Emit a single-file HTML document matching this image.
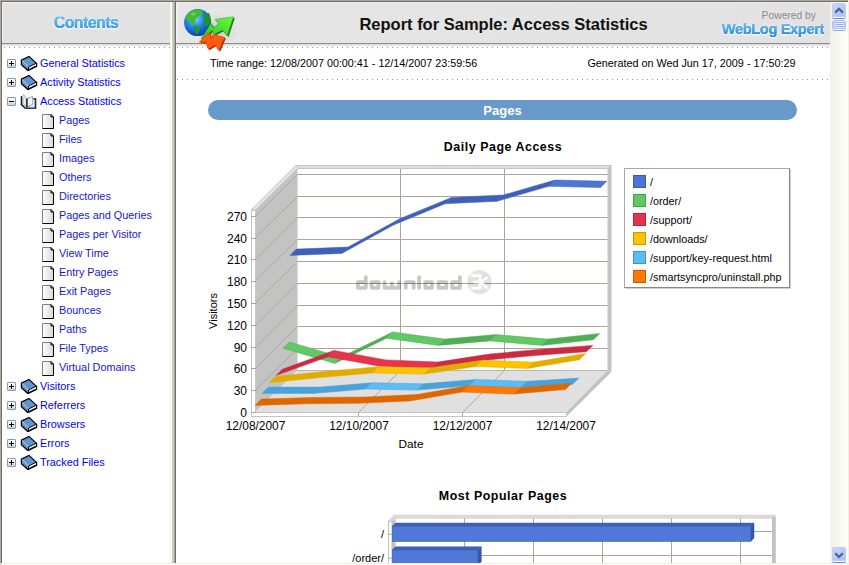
<!DOCTYPE html>
<html><head><meta charset="utf-8">
<style>
*{margin:0;padding:0;box-sizing:border-box}
html,body{width:849px;height:565px;overflow:hidden;background:#fff;font-family:"Liberation Sans",sans-serif;position:relative}
.abs{position:absolute}
#frame-t{left:0;top:0;width:849px;height:1px;background:#aca899}
#frame-t2{left:1px;top:1px;width:847px;height:1px;background:#716f64}
#frame-l{left:0;top:0;width:1px;height:565px;background:#aca899}
#frame-l2{left:1px;top:1px;width:1px;height:563px;background:#716f64}
#frame-r{left:848px;top:0;width:1px;height:565px;background:#f1efe2}
#frame-b{left:0;top:563px;width:849px;height:1px;background:#f1efe2}
/* left pane */
#lhead{left:2px;top:2px;width:168px;height:41px;background:#e2e2e2;border-top:1px solid #f2f2f2;border-left:1px solid #f2f2f2}
#lline{left:2px;top:43px;width:168px;height:1px;background:#8c8c8c}
#lgrad{left:2px;top:44px;width:168px;height:3px;background:linear-gradient(#d6d6d6,#fbfbfb)}
.dots{height:1px;background-image:linear-gradient(90deg,#9a9a9a 0,#9a9a9a 1px,transparent 1px);background-size:5px 1px}
#ldots{left:4px;top:47px;width:166px}
#contents,#contents2{left:2px;top:12.5px;width:168px;text-align:center;font-weight:bold;font-size:15.8px;line-height:20px;letter-spacing:-0.5px}
#contents{color:#3d9ae0;text-shadow:0 1px 2px #fff,0 0 2px #fff}
#contents2{color:transparent;background:linear-gradient(#e2e2e2 0,#e2e2e2 4px,#74c2f2 4px,#3a92dc 16px,#e2e2e2 16px);-webkit-background-clip:text;background-clip:text}
/* splitter */
#sp0{left:170px;top:2px;width:1px;height:561px;background:#f5f3e6}
#sp1{left:171px;top:2px;width:1px;height:561px;background:#ffffff}
#sp2{left:172px;top:2px;width:2px;height:561px;background:#c9c9cd}
#sp3{left:174px;top:2px;width:1px;height:561px;background:#aca894}
#sp4{left:175px;top:2px;width:1px;height:561px;background:#716f64}
/* right pane */
#rhead{left:176px;top:2px;width:654px;height:41px;background:linear-gradient(90deg,#f6f6f6 0,#e6e6e6 3px,#e2e2e2 100%);border-top:1px solid #ececec}
#rline{left:176px;top:43px;width:654px;height:1px;background:#8c8c8c}
#rgrad{left:176px;top:44px;width:654px;height:3px;background:linear-gradient(#d6d6d6,#fbfbfb)}
#rdots{left:177px;top:47px;width:652px}
#rdots2{left:177px;top:79px;width:652px}
#title{left:176.5px;top:14px;width:654px;text-align:center;font-weight:bold;font-size:16.5px;line-height:20px;color:#111;padding-left:0px}
#powered{left:700px;top:9.5px;width:116px;text-align:right;font-size:10.3px;line-height:12px;color:#8a8a8a}
#weblog,#weblog2{left:690px;top:20.5px;width:134px;text-align:right;font-weight:bold;font-size:14.6px;line-height:16px;letter-spacing:-0.35px}
#weblog{color:#3b9ae0;text-shadow:0 1px 2px #fff,0 0 2px #fff}
#weblog2{color:transparent;background:linear-gradient(#6cbcf0 3px,#2f8ad6 14px);-webkit-background-clip:text;background-clip:text}
#trange{left:210px;top:57px;font-size:10.77px;line-height:12px;color:#000}
#gen{left:500px;top:57px;width:295.5px;text-align:right;font-size:10.8px;line-height:12px;color:#000}
#pill{left:208px;top:100px;width:589px;height:20px;border-radius:10px;background:#6799cb;color:#fff;text-align:center;font-weight:bold;font-size:13px;line-height:21px}
.ctitle{font-weight:bold;font-size:12.4px;line-height:14px;color:#000;text-align:center;letter-spacing:0.55px}
#t1{left:380px;top:140px;width:246px}
#t2{left:380px;top:489px;width:246px}
.yl{position:absolute;left:207px;width:40px;text-align:right;font-size:12px;line-height:14px;color:#000}
.xl{position:absolute;top:418.5px;width:80px;text-align:center;font-size:11.9px;line-height:14px;color:#000}
#datel{left:380px;top:436.5px;width:62px;text-align:center;font-size:11.8px;line-height:14px}
#visl{left:182.5px;top:303.5px;width:60px;text-align:center;font-size:11px;line-height:14px;transform:rotate(-90deg)}
/* legend */
#legend{left:624px;top:168px;width:166px;height:120px;border:1px solid #a8a8a8;border-right-color:#888;border-bottom-color:#888;background:#fff;box-shadow:1px 1px 0 #d0d0d0}
.li{position:absolute;left:8px;height:14px;font-size:11px;line-height:14px;color:#000}
.sw{position:absolute;left:0;top:0;width:13px;height:13px;border:1px solid}
.li span.tx{position:absolute;left:17px;top:0px;white-space:nowrap;font-size:10.8px}
/* tree */
.tr{position:absolute;left:0;height:19px;width:168px;white-space:nowrap}
.pm{position:absolute;left:7px;top:5px;width:9px;height:9px;border:1px solid #7b9ebd;border-radius:1px;background:linear-gradient(#fff 0,#f0ede4 50%,#d6cfbd 100%)}
.pm .h{position:absolute;left:1px;top:3px;width:5px;height:1px;background:#000}
.pm .v{position:absolute;left:3px;top:1px;width:1px;height:5px;background:#000}
.ic{position:absolute;left:20px;top:1px}
.pg{position:absolute;left:42px;top:3px}
.t1{position:absolute;left:40px;top:2px;font-size:10.85px;line-height:14px;color:#0000ff}
.t2{position:absolute;left:59px;top:2px;font-size:10.85px;line-height:14px;color:#1616d4}
/* scrollbar */
#sb{left:830px;top:2px;width:18px;height:561px;background:linear-gradient(90deg,#f3f1e7,#fefefa)}
.sbb{position:absolute;left:832px;width:14px;height:14px;border-radius:2px;background:linear-gradient(135deg,#c9d8fc,#b4c9f8 60%,#a9c1f6);border:1px solid #b9cdf7;box-shadow:0 1px 0 #fff,0 2px 0 #6b8ed4}
#sbthumb{left:831.5px;top:19.5px;width:14.5px;height:9px;border-radius:3px;background:linear-gradient(90deg,#bcd0fa,#d4e0fd 50%,#bcd0fa);border:1px solid #a4bcf0;box-shadow:0 1px 0 #fff,0 2px 0 #8aa6e2}
</style></head><body>
<div class="abs" id="lhead"></div>
<div class="abs" id="lline"></div>
<div class="abs" id="lgrad"></div>
<div class="abs dots" id="ldots"></div>
<div class="abs" id="contents">Contents</div><div class="abs" id="contents2">Contents</div>
<div class="tr" style="top:54px"><span class="pm"><span class="h"></span><span class="v"></span></span><svg class="ic" width="18" height="17" viewBox="0 0 18 17"><polygon points="1.4,5.1 9,1.4 16.4,8.2 8.6,12 7.6,15.3 1.4,9.7" fill="#5f95cc"/><polygon points="8.6,12 16.4,8.2 16.6,11.4 8.5,15.3" fill="#ffffff"/><polygon points="1.4,5.1 9,1.4 16.6,8.4 16.6,11.4 8.5,15.3 7.6,15.3 1.4,9.7" fill="none" stroke="#000" stroke-width="1.25" stroke-linejoin="miter"/><line x1="2.2" y1="5.6" x2="8.6" y2="11.8" stroke="#d8d4c8" stroke-width="0.9"/><polyline points="8.6,12 16.4,8.2" fill="none" stroke="#000" stroke-width="1"/><line x1="9.5" y1="14" x2="15.5" y2="11" stroke="#000" stroke-width="0.7"/><polygon points="8.6,12 8.5,15.3" stroke="#000" stroke-width="1"/></svg><span class="t1">General Statistics</span></div>
<div class="tr" style="top:73px"><span class="pm"><span class="h"></span><span class="v"></span></span><svg class="ic" width="18" height="17" viewBox="0 0 18 17"><polygon points="1.4,5.1 9,1.4 16.4,8.2 8.6,12 7.6,15.3 1.4,9.7" fill="#5f95cc"/><polygon points="8.6,12 16.4,8.2 16.6,11.4 8.5,15.3" fill="#ffffff"/><polygon points="1.4,5.1 9,1.4 16.6,8.4 16.6,11.4 8.5,15.3 7.6,15.3 1.4,9.7" fill="none" stroke="#000" stroke-width="1.25" stroke-linejoin="miter"/><line x1="2.2" y1="5.6" x2="8.6" y2="11.8" stroke="#d8d4c8" stroke-width="0.9"/><polyline points="8.6,12 16.4,8.2" fill="none" stroke="#000" stroke-width="1"/><line x1="9.5" y1="14" x2="15.5" y2="11" stroke="#000" stroke-width="0.7"/><polygon points="8.6,12 8.5,15.3" stroke="#000" stroke-width="1"/></svg><span class="t1">Activity Statistics</span></div>
<div class="tr" style="top:92px"><span class="pm"><span class="h"></span></span><svg class="ic" width="18" height="17" viewBox="0 0 18 17"><polygon points="1.4,3.3 1.4,11.6 5.2,15 15.6,15 15.6,5.8 12.8,5.8 12.8,3.3 6.9,5.6 3.5,1.2" fill="#ffffff"/><polyline points="1.4,3.3 1.4,11.6 5.2,15.2 15.6,15.2 15.6,5.8 13.2,5.8" fill="none" stroke="#000" stroke-width="1.3"/><polyline points="2.3,4 2.3,11.2 5.6,14.2 14.8,14.2 14.8,6.6" fill="none" stroke="#5ba3e6" stroke-width="1"/><polygon points="2.8,3.4 3.7,1.4 6.2,5.6 6.6,13.6 3,10.8" fill="#eeeeee" stroke="#9a9a9a" stroke-width="0.8"/><polygon points="6.9,5.8 12.6,3.4 12.8,11.2 7,14" fill="#f2f2f2" stroke="#8a8a8a" stroke-width="0.8"/><line x1="6.9" y1="5.6" x2="6.9" y2="14.4" stroke="#000" stroke-width="1.2"/></svg><span class="t1">Access Statistics</span></div>
<div class="tr" style="top:111px"><svg class="pg" width="13" height="16" viewBox="0 0 13 16"><defs><linearGradient id="pgg" x1="0" x2="1" y1="0" y2="0"><stop offset="0" stop-color="#ffffff"/><stop offset="1" stop-color="#d8d8d8"/></linearGradient></defs><polygon points="0.5,0.5 9,0.5 11.5,3 11.5,14.5 0.5,14.5" fill="url(#pgg)"/><polyline points="0.5,14.5 0.5,0.5 9,0.5" fill="none" stroke="#808080" stroke-width="1"/><polyline points="9,0.5 11.5,3 11.5,14.5 0.5,14.5" fill="none" stroke="#000" stroke-width="1"/><polyline points="9,0.5 9,3 11.5,3" fill="none" stroke="#000" stroke-width="1"/></svg><span class="t2">Pages</span></div>
<div class="tr" style="top:130px"><svg class="pg" width="13" height="16" viewBox="0 0 13 16"><defs><linearGradient id="pgg" x1="0" x2="1" y1="0" y2="0"><stop offset="0" stop-color="#ffffff"/><stop offset="1" stop-color="#d8d8d8"/></linearGradient></defs><polygon points="0.5,0.5 9,0.5 11.5,3 11.5,14.5 0.5,14.5" fill="url(#pgg)"/><polyline points="0.5,14.5 0.5,0.5 9,0.5" fill="none" stroke="#808080" stroke-width="1"/><polyline points="9,0.5 11.5,3 11.5,14.5 0.5,14.5" fill="none" stroke="#000" stroke-width="1"/><polyline points="9,0.5 9,3 11.5,3" fill="none" stroke="#000" stroke-width="1"/></svg><span class="t2">Files</span></div>
<div class="tr" style="top:149px"><svg class="pg" width="13" height="16" viewBox="0 0 13 16"><defs><linearGradient id="pgg" x1="0" x2="1" y1="0" y2="0"><stop offset="0" stop-color="#ffffff"/><stop offset="1" stop-color="#d8d8d8"/></linearGradient></defs><polygon points="0.5,0.5 9,0.5 11.5,3 11.5,14.5 0.5,14.5" fill="url(#pgg)"/><polyline points="0.5,14.5 0.5,0.5 9,0.5" fill="none" stroke="#808080" stroke-width="1"/><polyline points="9,0.5 11.5,3 11.5,14.5 0.5,14.5" fill="none" stroke="#000" stroke-width="1"/><polyline points="9,0.5 9,3 11.5,3" fill="none" stroke="#000" stroke-width="1"/></svg><span class="t2">Images</span></div>
<div class="tr" style="top:168px"><svg class="pg" width="13" height="16" viewBox="0 0 13 16"><defs><linearGradient id="pgg" x1="0" x2="1" y1="0" y2="0"><stop offset="0" stop-color="#ffffff"/><stop offset="1" stop-color="#d8d8d8"/></linearGradient></defs><polygon points="0.5,0.5 9,0.5 11.5,3 11.5,14.5 0.5,14.5" fill="url(#pgg)"/><polyline points="0.5,14.5 0.5,0.5 9,0.5" fill="none" stroke="#808080" stroke-width="1"/><polyline points="9,0.5 11.5,3 11.5,14.5 0.5,14.5" fill="none" stroke="#000" stroke-width="1"/><polyline points="9,0.5 9,3 11.5,3" fill="none" stroke="#000" stroke-width="1"/></svg><span class="t2">Others</span></div>
<div class="tr" style="top:187px"><svg class="pg" width="13" height="16" viewBox="0 0 13 16"><defs><linearGradient id="pgg" x1="0" x2="1" y1="0" y2="0"><stop offset="0" stop-color="#ffffff"/><stop offset="1" stop-color="#d8d8d8"/></linearGradient></defs><polygon points="0.5,0.5 9,0.5 11.5,3 11.5,14.5 0.5,14.5" fill="url(#pgg)"/><polyline points="0.5,14.5 0.5,0.5 9,0.5" fill="none" stroke="#808080" stroke-width="1"/><polyline points="9,0.5 11.5,3 11.5,14.5 0.5,14.5" fill="none" stroke="#000" stroke-width="1"/><polyline points="9,0.5 9,3 11.5,3" fill="none" stroke="#000" stroke-width="1"/></svg><span class="t2">Directories</span></div>
<div class="tr" style="top:206px"><svg class="pg" width="13" height="16" viewBox="0 0 13 16"><defs><linearGradient id="pgg" x1="0" x2="1" y1="0" y2="0"><stop offset="0" stop-color="#ffffff"/><stop offset="1" stop-color="#d8d8d8"/></linearGradient></defs><polygon points="0.5,0.5 9,0.5 11.5,3 11.5,14.5 0.5,14.5" fill="url(#pgg)"/><polyline points="0.5,14.5 0.5,0.5 9,0.5" fill="none" stroke="#808080" stroke-width="1"/><polyline points="9,0.5 11.5,3 11.5,14.5 0.5,14.5" fill="none" stroke="#000" stroke-width="1"/><polyline points="9,0.5 9,3 11.5,3" fill="none" stroke="#000" stroke-width="1"/></svg><span class="t2">Pages and Queries</span></div>
<div class="tr" style="top:225px"><svg class="pg" width="13" height="16" viewBox="0 0 13 16"><defs><linearGradient id="pgg" x1="0" x2="1" y1="0" y2="0"><stop offset="0" stop-color="#ffffff"/><stop offset="1" stop-color="#d8d8d8"/></linearGradient></defs><polygon points="0.5,0.5 9,0.5 11.5,3 11.5,14.5 0.5,14.5" fill="url(#pgg)"/><polyline points="0.5,14.5 0.5,0.5 9,0.5" fill="none" stroke="#808080" stroke-width="1"/><polyline points="9,0.5 11.5,3 11.5,14.5 0.5,14.5" fill="none" stroke="#000" stroke-width="1"/><polyline points="9,0.5 9,3 11.5,3" fill="none" stroke="#000" stroke-width="1"/></svg><span class="t2">Pages per Visitor</span></div>
<div class="tr" style="top:244px"><svg class="pg" width="13" height="16" viewBox="0 0 13 16"><defs><linearGradient id="pgg" x1="0" x2="1" y1="0" y2="0"><stop offset="0" stop-color="#ffffff"/><stop offset="1" stop-color="#d8d8d8"/></linearGradient></defs><polygon points="0.5,0.5 9,0.5 11.5,3 11.5,14.5 0.5,14.5" fill="url(#pgg)"/><polyline points="0.5,14.5 0.5,0.5 9,0.5" fill="none" stroke="#808080" stroke-width="1"/><polyline points="9,0.5 11.5,3 11.5,14.5 0.5,14.5" fill="none" stroke="#000" stroke-width="1"/><polyline points="9,0.5 9,3 11.5,3" fill="none" stroke="#000" stroke-width="1"/></svg><span class="t2">View Time</span></div>
<div class="tr" style="top:263px"><svg class="pg" width="13" height="16" viewBox="0 0 13 16"><defs><linearGradient id="pgg" x1="0" x2="1" y1="0" y2="0"><stop offset="0" stop-color="#ffffff"/><stop offset="1" stop-color="#d8d8d8"/></linearGradient></defs><polygon points="0.5,0.5 9,0.5 11.5,3 11.5,14.5 0.5,14.5" fill="url(#pgg)"/><polyline points="0.5,14.5 0.5,0.5 9,0.5" fill="none" stroke="#808080" stroke-width="1"/><polyline points="9,0.5 11.5,3 11.5,14.5 0.5,14.5" fill="none" stroke="#000" stroke-width="1"/><polyline points="9,0.5 9,3 11.5,3" fill="none" stroke="#000" stroke-width="1"/></svg><span class="t2">Entry Pages</span></div>
<div class="tr" style="top:282px"><svg class="pg" width="13" height="16" viewBox="0 0 13 16"><defs><linearGradient id="pgg" x1="0" x2="1" y1="0" y2="0"><stop offset="0" stop-color="#ffffff"/><stop offset="1" stop-color="#d8d8d8"/></linearGradient></defs><polygon points="0.5,0.5 9,0.5 11.5,3 11.5,14.5 0.5,14.5" fill="url(#pgg)"/><polyline points="0.5,14.5 0.5,0.5 9,0.5" fill="none" stroke="#808080" stroke-width="1"/><polyline points="9,0.5 11.5,3 11.5,14.5 0.5,14.5" fill="none" stroke="#000" stroke-width="1"/><polyline points="9,0.5 9,3 11.5,3" fill="none" stroke="#000" stroke-width="1"/></svg><span class="t2">Exit Pages</span></div>
<div class="tr" style="top:301px"><svg class="pg" width="13" height="16" viewBox="0 0 13 16"><defs><linearGradient id="pgg" x1="0" x2="1" y1="0" y2="0"><stop offset="0" stop-color="#ffffff"/><stop offset="1" stop-color="#d8d8d8"/></linearGradient></defs><polygon points="0.5,0.5 9,0.5 11.5,3 11.5,14.5 0.5,14.5" fill="url(#pgg)"/><polyline points="0.5,14.5 0.5,0.5 9,0.5" fill="none" stroke="#808080" stroke-width="1"/><polyline points="9,0.5 11.5,3 11.5,14.5 0.5,14.5" fill="none" stroke="#000" stroke-width="1"/><polyline points="9,0.5 9,3 11.5,3" fill="none" stroke="#000" stroke-width="1"/></svg><span class="t2">Bounces</span></div>
<div class="tr" style="top:320px"><svg class="pg" width="13" height="16" viewBox="0 0 13 16"><defs><linearGradient id="pgg" x1="0" x2="1" y1="0" y2="0"><stop offset="0" stop-color="#ffffff"/><stop offset="1" stop-color="#d8d8d8"/></linearGradient></defs><polygon points="0.5,0.5 9,0.5 11.5,3 11.5,14.5 0.5,14.5" fill="url(#pgg)"/><polyline points="0.5,14.5 0.5,0.5 9,0.5" fill="none" stroke="#808080" stroke-width="1"/><polyline points="9,0.5 11.5,3 11.5,14.5 0.5,14.5" fill="none" stroke="#000" stroke-width="1"/><polyline points="9,0.5 9,3 11.5,3" fill="none" stroke="#000" stroke-width="1"/></svg><span class="t2">Paths</span></div>
<div class="tr" style="top:339px"><svg class="pg" width="13" height="16" viewBox="0 0 13 16"><defs><linearGradient id="pgg" x1="0" x2="1" y1="0" y2="0"><stop offset="0" stop-color="#ffffff"/><stop offset="1" stop-color="#d8d8d8"/></linearGradient></defs><polygon points="0.5,0.5 9,0.5 11.5,3 11.5,14.5 0.5,14.5" fill="url(#pgg)"/><polyline points="0.5,14.5 0.5,0.5 9,0.5" fill="none" stroke="#808080" stroke-width="1"/><polyline points="9,0.5 11.5,3 11.5,14.5 0.5,14.5" fill="none" stroke="#000" stroke-width="1"/><polyline points="9,0.5 9,3 11.5,3" fill="none" stroke="#000" stroke-width="1"/></svg><span class="t2">File Types</span></div>
<div class="tr" style="top:358px"><svg class="pg" width="13" height="16" viewBox="0 0 13 16"><defs><linearGradient id="pgg" x1="0" x2="1" y1="0" y2="0"><stop offset="0" stop-color="#ffffff"/><stop offset="1" stop-color="#d8d8d8"/></linearGradient></defs><polygon points="0.5,0.5 9,0.5 11.5,3 11.5,14.5 0.5,14.5" fill="url(#pgg)"/><polyline points="0.5,14.5 0.5,0.5 9,0.5" fill="none" stroke="#808080" stroke-width="1"/><polyline points="9,0.5 11.5,3 11.5,14.5 0.5,14.5" fill="none" stroke="#000" stroke-width="1"/><polyline points="9,0.5 9,3 11.5,3" fill="none" stroke="#000" stroke-width="1"/></svg><span class="t2">Virtual Domains</span></div>
<div class="tr" style="top:377px"><span class="pm"><span class="h"></span><span class="v"></span></span><svg class="ic" width="18" height="17" viewBox="0 0 18 17"><polygon points="1.4,5.1 9,1.4 16.4,8.2 8.6,12 7.6,15.3 1.4,9.7" fill="#5f95cc"/><polygon points="8.6,12 16.4,8.2 16.6,11.4 8.5,15.3" fill="#ffffff"/><polygon points="1.4,5.1 9,1.4 16.6,8.4 16.6,11.4 8.5,15.3 7.6,15.3 1.4,9.7" fill="none" stroke="#000" stroke-width="1.25" stroke-linejoin="miter"/><line x1="2.2" y1="5.6" x2="8.6" y2="11.8" stroke="#d8d4c8" stroke-width="0.9"/><polyline points="8.6,12 16.4,8.2" fill="none" stroke="#000" stroke-width="1"/><line x1="9.5" y1="14" x2="15.5" y2="11" stroke="#000" stroke-width="0.7"/><polygon points="8.6,12 8.5,15.3" stroke="#000" stroke-width="1"/></svg><span class="t1">Visitors</span></div>
<div class="tr" style="top:396px"><span class="pm"><span class="h"></span><span class="v"></span></span><svg class="ic" width="18" height="17" viewBox="0 0 18 17"><polygon points="1.4,5.1 9,1.4 16.4,8.2 8.6,12 7.6,15.3 1.4,9.7" fill="#5f95cc"/><polygon points="8.6,12 16.4,8.2 16.6,11.4 8.5,15.3" fill="#ffffff"/><polygon points="1.4,5.1 9,1.4 16.6,8.4 16.6,11.4 8.5,15.3 7.6,15.3 1.4,9.7" fill="none" stroke="#000" stroke-width="1.25" stroke-linejoin="miter"/><line x1="2.2" y1="5.6" x2="8.6" y2="11.8" stroke="#d8d4c8" stroke-width="0.9"/><polyline points="8.6,12 16.4,8.2" fill="none" stroke="#000" stroke-width="1"/><line x1="9.5" y1="14" x2="15.5" y2="11" stroke="#000" stroke-width="0.7"/><polygon points="8.6,12 8.5,15.3" stroke="#000" stroke-width="1"/></svg><span class="t1">Referrers</span></div>
<div class="tr" style="top:415px"><span class="pm"><span class="h"></span><span class="v"></span></span><svg class="ic" width="18" height="17" viewBox="0 0 18 17"><polygon points="1.4,5.1 9,1.4 16.4,8.2 8.6,12 7.6,15.3 1.4,9.7" fill="#5f95cc"/><polygon points="8.6,12 16.4,8.2 16.6,11.4 8.5,15.3" fill="#ffffff"/><polygon points="1.4,5.1 9,1.4 16.6,8.4 16.6,11.4 8.5,15.3 7.6,15.3 1.4,9.7" fill="none" stroke="#000" stroke-width="1.25" stroke-linejoin="miter"/><line x1="2.2" y1="5.6" x2="8.6" y2="11.8" stroke="#d8d4c8" stroke-width="0.9"/><polyline points="8.6,12 16.4,8.2" fill="none" stroke="#000" stroke-width="1"/><line x1="9.5" y1="14" x2="15.5" y2="11" stroke="#000" stroke-width="0.7"/><polygon points="8.6,12 8.5,15.3" stroke="#000" stroke-width="1"/></svg><span class="t1">Browsers</span></div>
<div class="tr" style="top:434px"><span class="pm"><span class="h"></span><span class="v"></span></span><svg class="ic" width="18" height="17" viewBox="0 0 18 17"><polygon points="1.4,5.1 9,1.4 16.4,8.2 8.6,12 7.6,15.3 1.4,9.7" fill="#5f95cc"/><polygon points="8.6,12 16.4,8.2 16.6,11.4 8.5,15.3" fill="#ffffff"/><polygon points="1.4,5.1 9,1.4 16.6,8.4 16.6,11.4 8.5,15.3 7.6,15.3 1.4,9.7" fill="none" stroke="#000" stroke-width="1.25" stroke-linejoin="miter"/><line x1="2.2" y1="5.6" x2="8.6" y2="11.8" stroke="#d8d4c8" stroke-width="0.9"/><polyline points="8.6,12 16.4,8.2" fill="none" stroke="#000" stroke-width="1"/><line x1="9.5" y1="14" x2="15.5" y2="11" stroke="#000" stroke-width="0.7"/><polygon points="8.6,12 8.5,15.3" stroke="#000" stroke-width="1"/></svg><span class="t1">Errors</span></div>
<div class="tr" style="top:453px"><span class="pm"><span class="h"></span><span class="v"></span></span><svg class="ic" width="18" height="17" viewBox="0 0 18 17"><polygon points="1.4,5.1 9,1.4 16.4,8.2 8.6,12 7.6,15.3 1.4,9.7" fill="#5f95cc"/><polygon points="8.6,12 16.4,8.2 16.6,11.4 8.5,15.3" fill="#ffffff"/><polygon points="1.4,5.1 9,1.4 16.6,8.4 16.6,11.4 8.5,15.3 7.6,15.3 1.4,9.7" fill="none" stroke="#000" stroke-width="1.25" stroke-linejoin="miter"/><line x1="2.2" y1="5.6" x2="8.6" y2="11.8" stroke="#d8d4c8" stroke-width="0.9"/><polyline points="8.6,12 16.4,8.2" fill="none" stroke="#000" stroke-width="1"/><line x1="9.5" y1="14" x2="15.5" y2="11" stroke="#000" stroke-width="0.7"/><polygon points="8.6,12 8.5,15.3" stroke="#000" stroke-width="1"/></svg><span class="t1">Tracked Files</span></div>
<div class="abs" id="sp0"></div><div class="abs" id="sp1"></div><div class="abs" id="sp2"></div><div class="abs" id="sp3"></div><div class="abs" id="sp4"></div>
<div class="abs" id="rhead"></div>
<div class="abs" id="rline"></div>
<div class="abs" id="rgrad"></div>
<div class="abs dots" id="rdots"></div>
<div class="abs dots" id="rdots2"></div>
<svg class="abs" style="left:178px;top:4px" width="60" height="52" viewBox="178 4 60 52">
<defs>
<radialGradient id="glb" cx="0.4" cy="0.35" r="0.7"><stop offset="0" stop-color="#8fd8ff"/><stop offset="0.45" stop-color="#2286ec"/><stop offset="1" stop-color="#0636a0"/></radialGradient>
<radialGradient id="sh" cx="0.5" cy="0.5" r="0.5"><stop offset="0" stop-color="#000" stop-opacity="0.12"/><stop offset="1" stop-color="#000" stop-opacity="0"/></radialGradient>
<linearGradient id="garr" x1="0" y1="1" x2="1" y2="0"><stop offset="0" stop-color="#2fb82a"/><stop offset="1" stop-color="#66ff3c"/></linearGradient>
</defs>
<ellipse cx="218" cy="30" rx="20" ry="18" fill="url(#sh)"/>
<circle cx="197.6" cy="22.6" r="13.5" fill="url(#glb)"/>
<path d="M185.5,18 C186.5,14.5 189,12 192,10.8 C195,9.5 199,9.3 202,10.6 C203.5,12 203.5,14 201.5,14.8 C199.5,15.5 197.5,17 196,19 C194.5,21 195,23 196.5,25 C194,24.5 191.5,23.5 189.5,22 C187.5,21 186,19.5 185.5,18 Z" fill="#46b830"/>
<path d="M193.6,25.2 C196,25.3 199.5,26.3 200.3,28 C200,30.5 198,33 196.2,35 C195.8,33 195.2,30 194.6,28.2 Z" fill="#25962a"/>
<path d="M203.8,16 C205,14 207,12.6 208.5,12.8 C210,14.5 211,18 210.8,22 C210.2,24.5 208,26 206,26.2 C204.5,25 203.5,23 203.6,20.5 Z" fill="#20922a"/>
<ellipse cx="193.5" cy="14" rx="2.5" ry="1.6" fill="#c8ffd0" opacity="0.35"/>
<polygon transform="translate(1.3,1.1)" points="233.5,16.8 215.3,19.4 218.3,23.9 213.5,28 210.9,23.2 201.2,38.4 203,39.5 212,30.6 214.2,34.3 222.4,30.2 227.2,35.8" fill="#1a7814"/>
<polygon points="233.5,16.8 215.3,19.4 218.3,23.9 213.5,28 210.9,23.2 201.2,38.4 203,39.5 212,30.6 214.2,34.3 222.4,30.2 227.2,35.8" fill="url(#garr)" stroke="#2a9020" stroke-width="0.5" stroke-linejoin="round"/>
<polygon transform="translate(1.4,1.4)" points="199.3,42.1 207.5,33.2 209.8,33.6 211.2,39.1 212.7,34.3 224.6,37.3 219,50.7 215,45.1 208.3,49.2 205.7,42.5" fill="#000" opacity="0.15"/>
<polygon transform="translate(1.1,1)" points="199.3,42.1 207.5,33.2 209.8,33.6 211.2,39.1 212.7,34.3 224.6,37.3 219,50.7 215,45.1 208.3,49.2 205.7,42.5" fill="#9a2800"/>
<polygon points="199.3,42.1 207.5,33.2 209.8,33.6 211.2,39.1 212.7,34.3 224.6,37.3 219,50.7 215,45.1 208.3,49.2 205.7,42.5" fill="#ff5a10" stroke="#d84000" stroke-width="0.5" stroke-linejoin="round"/>
</svg>
<div class="abs" id="title">Report for Sample: Access Statistics</div>
<div class="abs" id="powered">Powered by</div>
<div class="abs" id="weblog">WebLog Expert</div><div class="abs" id="weblog2">WebLog Expert</div>
<div class="abs" id="trange">Time range: 12/08/2007 00:00:41 - 12/14/2007 23:59:56</div>
<div class="abs" id="gen">Generated on Wed Jun 17, 2009 - 17:50:29</div>
<div class="abs" id="pill">Pages</div>
<div class="abs ctitle" id="t1">Daily Page Access</div>
<svg class="abs" style="left:0;top:0" width="849" height="565">
<rect x="297" y="168" width="311" height="202.5" fill="#ffffff"/>
<line x1="297.00" y1="348.50" x2="608.00" y2="348.50" stroke="#aca899" stroke-width="1"/>
<line x1="297.00" y1="326.50" x2="608.00" y2="326.50" stroke="#aca899" stroke-width="1"/>
<line x1="297.00" y1="305.50" x2="608.00" y2="305.50" stroke="#aca899" stroke-width="1"/>
<line x1="297.00" y1="283.50" x2="608.00" y2="283.50" stroke="#aca899" stroke-width="1"/>
<line x1="297.00" y1="261.50" x2="608.00" y2="261.50" stroke="#aca899" stroke-width="1"/>
<line x1="297.00" y1="239.50" x2="608.00" y2="239.50" stroke="#aca899" stroke-width="1"/>
<line x1="297.00" y1="217.50" x2="608.00" y2="217.50" stroke="#aca899" stroke-width="1"/>
<line x1="297.00" y1="196.50" x2="608.00" y2="196.50" stroke="#aca899" stroke-width="1"/>
<line x1="297.00" y1="174.50" x2="608.00" y2="174.50" stroke="#aca899" stroke-width="1"/>
<line x1="400.50" y1="168.00" x2="400.50" y2="370.50" stroke="#aca899" stroke-width="1"/>
<line x1="504.50" y1="168.00" x2="504.50" y2="370.50" stroke="#aca899" stroke-width="1"/>
<polygon points="255.00,412.50 297.50,370.50 297.50,168.00 255.00,210.00" fill="#c3c3c3"/>
<line x1="255.00" y1="390.50" x2="297.50" y2="348.50" stroke="#aca899" stroke-width="1"/>
<line x1="255.00" y1="368.50" x2="297.50" y2="326.50" stroke="#aca899" stroke-width="1"/>
<line x1="255.00" y1="347.50" x2="297.50" y2="305.50" stroke="#aca899" stroke-width="1"/>
<line x1="255.00" y1="325.50" x2="297.50" y2="283.50" stroke="#aca899" stroke-width="1"/>
<line x1="255.00" y1="303.50" x2="297.50" y2="261.50" stroke="#aca899" stroke-width="1"/>
<line x1="255.00" y1="281.50" x2="297.50" y2="239.50" stroke="#aca899" stroke-width="1"/>
<line x1="255.00" y1="259.50" x2="297.50" y2="217.50" stroke="#aca899" stroke-width="1"/>
<line x1="255.00" y1="238.50" x2="297.50" y2="196.50" stroke="#aca899" stroke-width="1"/>
<line x1="255.00" y1="216.50" x2="297.50" y2="174.50" stroke="#aca899" stroke-width="1"/>
<polygon points="255.00,412.50 566.00,412.50 608.00,370.50 297.50,370.50" fill="#e0e0e0"/>
<line x1="358.50" y1="412.50" x2="400.50" y2="370.50" stroke="#aca899" stroke-width="1"/>
<line x1="462.50" y1="412.50" x2="504.50" y2="370.50" stroke="#aca899" stroke-width="1"/>
<line x1="297.00" y1="370.50" x2="607.50" y2="370.50" stroke="#b8b8b8" stroke-width="1"/>
<polygon points="296.00,165.00 611.50,165.00 608.00,168.50 297.50,168.50" fill="#dedede"/>
<line x1="296.00" y1="165.50" x2="611.50" y2="165.50" stroke="#c4c4c4" stroke-width="1"/>
<line x1="297.50" y1="168.50" x2="607.50" y2="168.50" stroke="#c4c4c4" stroke-width="1"/>
<polygon points="607.50,168.50 611.50,165.00 611.50,372.00 607.50,370.50" fill="#c3c3c3"/>
<polygon points="566.00,412.50 607.50,370.50 611.50,372.00 566.50,416.50" fill="#c3c3c3"/>
<polygon points="251.00,210.00 296.00,165.00 297.50,168.50 255.50,210.00" fill="#e2e2e2" stroke="#c4c4c4" stroke-width="0.8" stroke-linejoin="round"/>
<rect x="251.5" y="210.5" width="4" height="206" fill="#ffffff" stroke="#c4c4c4" stroke-width="1"/>
<rect x="251.5" y="412.5" width="315" height="4" fill="#ffffff" stroke="#c4c4c4" stroke-width="1"/>
<line x1="251.00" y1="412.50" x2="256.00" y2="412.50" stroke="#aca899" stroke-width="1"/>
<line x1="251.00" y1="390.50" x2="256.00" y2="390.50" stroke="#aca899" stroke-width="1"/>
<line x1="251.00" y1="368.50" x2="256.00" y2="368.50" stroke="#aca899" stroke-width="1"/>
<line x1="251.00" y1="347.50" x2="256.00" y2="347.50" stroke="#aca899" stroke-width="1"/>
<line x1="251.00" y1="325.50" x2="256.00" y2="325.50" stroke="#aca899" stroke-width="1"/>
<line x1="251.00" y1="303.50" x2="256.00" y2="303.50" stroke="#aca899" stroke-width="1"/>
<line x1="251.00" y1="281.50" x2="256.00" y2="281.50" stroke="#aca899" stroke-width="1"/>
<line x1="251.00" y1="259.50" x2="256.00" y2="259.50" stroke="#aca899" stroke-width="1"/>
<line x1="251.00" y1="238.50" x2="256.00" y2="238.50" stroke="#aca899" stroke-width="1"/>
<line x1="251.00" y1="216.50" x2="256.00" y2="216.50" stroke="#aca899" stroke-width="1"/>
<line x1="358.50" y1="412.00" x2="358.50" y2="416.50" stroke="#aca899" stroke-width="1"/>
<line x1="462.50" y1="412.00" x2="462.50" y2="416.50" stroke="#aca899" stroke-width="1"/>
<polygon points="290.00,255.40 341.75,253.40 348.05,247.10 296.30,249.10" fill="#3f60b8" stroke="#3f60b8" stroke-width="0.5" stroke-linejoin="round"/>
<polygon points="341.75,253.40 393.50,225.00 399.80,218.70 348.05,247.10" fill="#3f60b8" stroke="#3f60b8" stroke-width="0.5" stroke-linejoin="round"/>
<polygon points="393.50,225.00 445.25,203.70 451.55,197.40 399.80,218.70" fill="#3f60b8" stroke="#3f60b8" stroke-width="0.5" stroke-linejoin="round"/>
<polygon points="445.25,203.70 497.00,201.30 503.30,195.00 451.55,197.40" fill="#3f60b8" stroke="#3f60b8" stroke-width="0.5" stroke-linejoin="round"/>
<polygon points="497.00,201.30 548.75,186.30 555.05,180.00 503.30,195.00" fill="#3f60b8" stroke="#3f60b8" stroke-width="0.5" stroke-linejoin="round"/>
<polygon points="548.75,186.30 600.50,187.60 606.80,181.30 555.05,180.00" fill="#4f74d8" stroke="#3f60b8" stroke-width="0.5" stroke-linejoin="round"/>
<polygon points="283.00,348.20 334.75,363.40 341.05,357.10 289.30,341.90" fill="#62c866" stroke="#50ae54" stroke-width="0.5" stroke-linejoin="round"/>
<polygon points="334.75,363.40 386.50,338.30 392.80,332.00 341.05,357.10" fill="#50ae54" stroke="#50ae54" stroke-width="0.5" stroke-linejoin="round"/>
<polygon points="386.50,338.30 438.25,345.40 444.55,339.10 392.80,332.00" fill="#62c866" stroke="#50ae54" stroke-width="0.5" stroke-linejoin="round"/>
<polygon points="438.25,345.40 490.00,340.90 496.30,334.60 444.55,339.10" fill="#50ae54" stroke="#50ae54" stroke-width="0.5" stroke-linejoin="round"/>
<polygon points="490.00,340.90 541.75,345.40 548.05,339.10 496.30,334.60" fill="#62c866" stroke="#50ae54" stroke-width="0.5" stroke-linejoin="round"/>
<polygon points="541.75,345.40 593.50,339.70 599.80,333.40 548.05,339.10" fill="#50ae54" stroke="#50ae54" stroke-width="0.5" stroke-linejoin="round"/>
<polygon points="276.00,375.50 327.75,356.80 334.05,350.50 282.30,369.20" fill="#cc2a40" stroke="#cc2a40" stroke-width="0.5" stroke-linejoin="round"/>
<polygon points="327.75,356.80 379.50,366.20 385.80,359.90 334.05,350.50" fill="#e8334d" stroke="#cc2a40" stroke-width="0.5" stroke-linejoin="round"/>
<polygon points="379.50,366.20 431.25,368.40 437.55,362.10 385.80,359.90" fill="#e8334d" stroke="#cc2a40" stroke-width="0.5" stroke-linejoin="round"/>
<polygon points="431.25,368.40 483.00,360.40 489.30,354.10 437.55,362.10" fill="#cc2a40" stroke="#cc2a40" stroke-width="0.5" stroke-linejoin="round"/>
<polygon points="483.00,360.40 534.75,355.50 541.05,349.20 489.30,354.10" fill="#cc2a40" stroke="#cc2a40" stroke-width="0.5" stroke-linejoin="round"/>
<polygon points="534.75,355.50 586.50,351.70 592.80,345.40 541.05,349.20" fill="#cc2a40" stroke="#cc2a40" stroke-width="0.5" stroke-linejoin="round"/>
<polygon points="269.00,382.70 320.75,377.50 327.05,371.20 275.30,376.40" fill="#e0ac00" stroke="#e0ac00" stroke-width="0.5" stroke-linejoin="round"/>
<polygon points="320.75,377.50 372.50,373.00 378.80,366.70 327.05,371.20" fill="#e0ac00" stroke="#e0ac00" stroke-width="0.5" stroke-linejoin="round"/>
<polygon points="372.50,373.00 424.25,374.10 430.55,367.80 378.80,366.70" fill="#ffc400" stroke="#e0ac00" stroke-width="0.5" stroke-linejoin="round"/>
<polygon points="424.25,374.10 476.00,366.60 482.30,360.30 430.55,367.80" fill="#e0ac00" stroke="#e0ac00" stroke-width="0.5" stroke-linejoin="round"/>
<polygon points="476.00,366.60 527.75,368.40 534.05,362.10 482.30,360.30" fill="#ffc400" stroke="#e0ac00" stroke-width="0.5" stroke-linejoin="round"/>
<polygon points="527.75,368.40 579.50,359.70 585.80,353.40 534.05,362.10" fill="#e0ac00" stroke="#e0ac00" stroke-width="0.5" stroke-linejoin="round"/>
<polygon points="262.00,393.40 313.75,393.40 320.05,387.10 268.30,387.10" fill="#4aa2d8" stroke="#4aa2d8" stroke-width="0.5" stroke-linejoin="round"/>
<polygon points="313.75,393.40 365.50,389.10 371.80,382.80 320.05,387.10" fill="#4aa2d8" stroke="#4aa2d8" stroke-width="0.5" stroke-linejoin="round"/>
<polygon points="365.50,389.10 417.25,390.10 423.55,383.80 371.80,382.80" fill="#5cbcf4" stroke="#4aa2d8" stroke-width="0.5" stroke-linejoin="round"/>
<polygon points="417.25,390.10 469.00,385.80 475.30,379.50 423.55,383.80" fill="#4aa2d8" stroke="#4aa2d8" stroke-width="0.5" stroke-linejoin="round"/>
<polygon points="469.00,385.80 520.75,387.60 527.05,381.30 475.30,379.50" fill="#5cbcf4" stroke="#4aa2d8" stroke-width="0.5" stroke-linejoin="round"/>
<polygon points="520.75,387.60 572.50,384.40 578.80,378.10 527.05,381.30" fill="#4aa2d8" stroke="#4aa2d8" stroke-width="0.5" stroke-linejoin="round"/>
<polygon points="255.00,405.40 306.75,403.70 313.05,397.40 261.30,399.10" fill="#e06600" stroke="#e06600" stroke-width="0.5" stroke-linejoin="round"/>
<polygon points="306.75,403.70 358.50,403.30 364.80,397.00 313.05,397.40" fill="#e06600" stroke="#e06600" stroke-width="0.5" stroke-linejoin="round"/>
<polygon points="358.50,403.30 410.25,400.90 416.55,394.60 364.80,397.00" fill="#e06600" stroke="#e06600" stroke-width="0.5" stroke-linejoin="round"/>
<polygon points="410.25,400.90 462.00,392.10 468.30,385.80 416.55,394.60" fill="#e06600" stroke="#e06600" stroke-width="0.5" stroke-linejoin="round"/>
<polygon points="462.00,392.10 513.75,394.10 520.05,387.80 468.30,385.80" fill="#ff7800" stroke="#e06600" stroke-width="0.5" stroke-linejoin="round"/>
<polygon points="513.75,394.10 565.50,389.50 571.80,383.20 520.05,387.80" fill="#e06600" stroke="#e06600" stroke-width="0.5" stroke-linejoin="round"/>
<g opacity="0.22">
<path d="M358.0,282.2H365.8V287.8H358.0Z M365.8,277.2V287.8 M371.6,282.2H378.5V287.8H371.6Z M384.6,282.2V287.8H399.0V282.2M391.8,283.2V287.8 M405.8,287.8V282.2H413.7V287.8 M419.1,277.2V287.8 M425.4,282.2H431.9V287.8H425.4Z M438.6,282.2H446.3V287.8H438.6Z M452.2,282.2H459.9V287.8H452.2Z M459.9,277.2V287.8" fill="none" stroke="#000" stroke-width="3.8" stroke-linejoin="round" stroke-linecap="round"/>
</g>
<circle cx="479.5" cy="282.1" r="12.2" fill="#000" opacity="0.115"/>
<path d="M470.8,275.6H480V288.3H470.8M473.5,282H480M480.5,282L487.5,277.3M480.5,282L487.5,288.5" fill="none" stroke="#fff" stroke-width="2.6"/>
</svg>
<div class="yl" style="top:405.5px">0</div>
<div class="yl" style="top:383.5px">30</div>
<div class="yl" style="top:361.5px">60</div>
<div class="yl" style="top:340.5px">90</div>
<div class="yl" style="top:318.5px">120</div>
<div class="yl" style="top:296.5px">150</div>
<div class="yl" style="top:274.5px">180</div>
<div class="yl" style="top:252.5px">210</div>
<div class="yl" style="top:231.5px">240</div>
<div class="yl" style="top:209.5px">270</div>
<div class="xl" style="left:215.5px">12/08/2007</div>
<div class="xl" style="left:319.0px">12/10/2007</div>
<div class="xl" style="left:422.5px">12/12/2007</div>
<div class="xl" style="left:526.0px">12/14/2007</div>
<div class="abs" id="datel">Date</div>
<div class="abs" id="visl">Visitors</div>
<div class="abs" id="legend">
<div class="li" style="top:6px"><span class="sw" style="background:#4f74d8;border-color:#3c5aa8"></span><span class="tx">/</span></div>
<div class="li" style="top:25px"><span class="sw" style="background:#62c866;border-color:#44a347"></span><span class="tx">/order/</span></div>
<div class="li" style="top:44px"><span class="sw" style="background:#e8334d;border-color:#b42234"></span><span class="tx">/support/</span></div>
<div class="li" style="top:63px"><span class="sw" style="background:#ffc400;border-color:#c89a00"></span><span class="tx">/downloads/</span></div>
<div class="li" style="top:82px"><span class="sw" style="background:#5cbcf4;border-color:#3f94c8"></span><span class="tx">/support/key-request.html</span></div>
<div class="li" style="top:101px"><span class="sw" style="background:#ff7800;border-color:#c85a00"></span><span class="tx">/smartsyncpro/uninstall.php</span></div>
</div>
<div class="abs ctitle" id="t2">Most Popular Pages</div>
<svg class="abs" style="left:0;top:0" width="849" height="563">
<rect x="395.5" y="518.2" width="376.5" height="46.799999999999955" fill="#fff"/>
<line x1="464.50" y1="518.20" x2="464.50" y2="565.00" stroke="#aca899" stroke-width="1"/>
<line x1="533.50" y1="518.20" x2="533.50" y2="565.00" stroke="#aca899" stroke-width="1"/>
<line x1="602.50" y1="518.20" x2="602.50" y2="565.00" stroke="#aca899" stroke-width="1"/>
<line x1="671.50" y1="518.20" x2="671.50" y2="565.00" stroke="#aca899" stroke-width="1"/>
<line x1="740.50" y1="518.20" x2="740.50" y2="565.00" stroke="#aca899" stroke-width="1"/>
<line x1="395.50" y1="531.50" x2="772.00" y2="531.50" stroke="#aca899" stroke-width="1"/>
<line x1="395.50" y1="555.50" x2="772.00" y2="555.50" stroke="#aca899" stroke-width="1"/>
<polygon points="392.00,521.70 395.50,518.20 395.50,565.00 392.00,565.00" fill="#c3c3c3"/>
<polygon points="388.00,521.40 394.00,515.20 775.80,515.20 772.00,518.20 395.50,518.20 392.00,521.40" fill="#dcdcdc" stroke="#c8c8c8" stroke-width="0.6"/>
<rect x="772" y="516.7" width="3.8" height="46.799999999999955" fill="#c3c3c3"/>
<rect x="388.5" y="521.40" width="3.5" height="50" fill="#fff" stroke="#c0c0c0" stroke-width="1"/>
<line x1="388.00" y1="534.30" x2="392.00" y2="534.30" stroke="#aca899" stroke-width="1"/>
<line x1="388.00" y1="558.20" x2="392.00" y2="558.20" stroke="#aca899" stroke-width="1"/>
<polygon points="392.30,526.30 750.70,526.30 754.00,523.10 395.50,523.10" fill="#3f62bc" stroke="#3558a8" stroke-width="0.5"/>
<polygon points="750.70,526.30 754.00,523.10 754.00,538.20 750.70,541.40" fill="#3656a8" stroke="#3558a8" stroke-width="0.5"/>
<rect x="392.3" y="526.3" width="358.40" height="15.10" fill="#4f78d8" stroke="#3a5cb0" stroke-width="0.6"/>
<polygon points="392.30,550.00 478.00,550.00 481.30,546.80 395.50,546.80" fill="#3f62bc" stroke="#3558a8" stroke-width="0.5"/>
<polygon points="478.00,550.00 481.30,546.80 481.30,561.80 478.00,565.00" fill="#3656a8" stroke="#3558a8" stroke-width="0.5"/>
<rect x="392.3" y="550.0" width="85.70" height="15.00" fill="#4f78d8" stroke="#3a5cb0" stroke-width="0.6"/>
</svg>
<div class="abs" style="left:330px;top:527px;width:54px;text-align:right;font-size:11px;line-height:14px">/</div>
<div class="abs" style="left:330px;top:551px;width:54px;text-align:right;font-size:11px;line-height:14px">/order/</div>
<div class="abs" id="sb"></div>
<div class="abs sbb" style="top:3px"><svg width="12" height="12" viewBox="0 0 12 12"><polyline points="2.2,6.6 6,2.8 9.8,6.6" fill="none" stroke="#4d6185" stroke-width="2.2"/></svg></div>
<div class="abs" id="sbthumb"><svg width="12" height="7" viewBox="0 0 12 7" style="position:absolute;left:0;top:0"><g stroke="#8eaaf0" stroke-width="1"><line x1="3" y1="1.5" x2="10" y2="1.5"/><line x1="3" y1="3.5" x2="10" y2="3.5"/><line x1="3" y1="5.5" x2="10" y2="5.5"/></g><g stroke="#f4f7ff" stroke-width="1"><line x1="3" y1="0.5" x2="10" y2="0.5"/><line x1="3" y1="2.5" x2="10" y2="2.5"/><line x1="3" y1="4.5" x2="10" y2="4.5"/><line x1="3" y1="6.5" x2="10" y2="6.5"/></g></svg></div>
<div class="abs sbb" style="top:547px"><svg width="12" height="12" viewBox="0 0 12 12"><polyline points="2.2,3.2 6,7 9.8,3.2" fill="none" stroke="#4d6185" stroke-width="2.2"/></svg></div>
<div class="abs" id="frame-t"></div><div class="abs" id="frame-t2"></div><div class="abs" id="frame-l"></div><div class="abs" id="frame-l2"></div><div class="abs" id="frame-r"></div><div class="abs" id="frame-b"></div>
</body></html>
